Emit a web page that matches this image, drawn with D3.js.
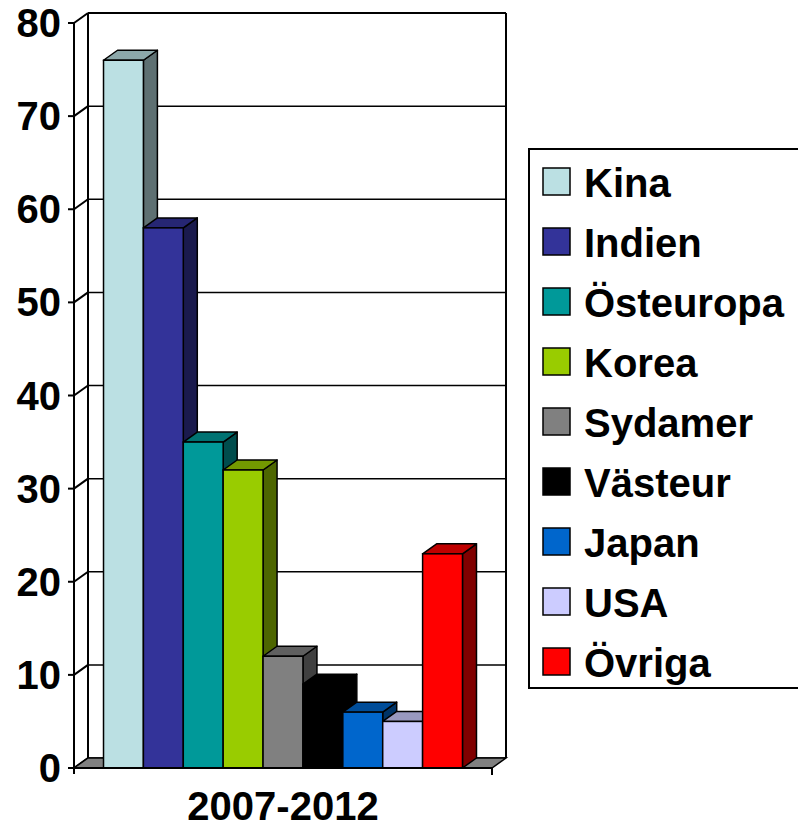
<!DOCTYPE html>
<html>
<head>
<meta charset="utf-8">
<script src="https://cdn.jsdelivr.net/npm/d3@7"></script>
<style>
  html, body { margin: 0; padding: 0; background: #fff; }
  svg { display: block; }
  text { font-family: "Liberation Sans", Arial, sans-serif; font-weight: bold; fill: #000; }
</style>
</head>
<body>
<svg id="chart" width="798" height="829"></svg>
<script>
const categories = ["Kina", "Indien", "Östeuropa", "Korea", "Sydamer", "Västeur", "Japan", "USA", "Övriga"];
const values = [76, 58, 35, 32, 12, 9, 6, 5, 23];
const colors = ["#BBE0E3", "#333399", "#009999", "#99CC00", "#808080", "#000000", "#0066CC", "#CCCCFF", "#FF0000"];
const yTicks = [0, 10, 20, 30, 40, 50, 60, 70, 80];
const groupLabel = "2007-2012";

const svg = d3.select("#chart");
const depthX = 14, depthY = -10;
const x0 = 74, x1 = 492, yBottom = 768, yTop = 23;

const x = d3.scaleBand().domain(categories).range([x0, x1]).paddingInner(0).paddingOuter(0.74);
const y = d3.scaleLinear().domain([0, 80]).range([yBottom, yTop]);

function shade(c, k) {
  const col = d3.rgb(c);
  return d3.rgb(col.r * k, col.g * k, col.b * k).formatHex();
}

const walls = svg.append("g");
walls.selectAll("line.grid").data(yTicks).join("line")
  .attr("x1", x0 + depthX).attr("x2", x1 + depthX)
  .attr("y1", d => y(d) + depthY).attr("y2", d => y(d) + depthY)
  .attr("stroke", "#000").attr("stroke-width", d => d === 80 ? 2 : 1.5);
walls.append("line")
  .attr("x1", x1 + depthX).attr("x2", x1 + depthX)
  .attr("y1", y(80) + depthY).attr("y2", y(0) + depthY)
  .attr("stroke", "#000").attr("stroke-width", 2);
walls.append("line")
  .attr("x1", x0 + depthX).attr("x2", x0 + depthX)
  .attr("y1", y(80) + depthY).attr("y2", y(0) + depthY)
  .attr("stroke", "#000").attr("stroke-width", 2);
walls.selectAll("line.diag").data(yTicks).join("line")
  .attr("x1", x0).attr("x2", x0 + depthX)
  .attr("y1", d => y(d)).attr("y2", d => y(d) + depthY)
  .attr("stroke", "#000").attr("stroke-width", 2);
walls.append("path")
  .attr("d", `M${x0},${y(0)}L${x1},${y(0)}L${x1 + depthX},${y(0) + depthY}L${x0 + depthX},${y(0) + depthY}Z`)
  .attr("fill", "#808080").attr("stroke", "#000").attr("stroke-width", 1.5);

const axis = svg.append("g");
axis.append("line")
  .attr("x1", x0).attr("x2", x0).attr("y1", y(80)).attr("y2", y(0) + 6)
  .attr("stroke", "#000").attr("stroke-width", 2);
axis.selectAll("line.tick").data(yTicks).join("line")
  .attr("x1", x0 - 6).attr("x2", x0)
  .attr("y1", d => y(d)).attr("y2", d => y(d))
  .attr("stroke", "#000").attr("stroke-width", 2);
axis.selectAll("text.tl").data(yTicks).join("text")
  .attr("x", 61).attr("y", d => y(d) + 14)
  .attr("text-anchor", "end").attr("font-size", 40)
  .text(d => d);

const bars = svg.append("g");
categories.forEach((c, i) => {
  const bx = x(c), w = x.bandwidth();
  const yt = y(values[i]), yb = y(0);
  const g = bars.append("g");
  g.append("path")
    .attr("d", `M${bx + w},${yt}L${bx + w + depthX},${yt + depthY}L${bx + w + depthX},${yb + depthY}L${bx + w},${yb}Z`)
    .attr("fill", shade(colors[i], 0.5)).attr("stroke", "#000").attr("stroke-width", 1.5).attr("stroke-linejoin", "round");
  g.append("path")
    .attr("d", `M${bx},${yt}L${bx + depthX},${yt + depthY}L${bx + w + depthX},${yt + depthY}L${bx + w},${yt}Z`)
    .attr("fill", shade(colors[i], 0.75)).attr("stroke", "#000").attr("stroke-width", 1.5).attr("stroke-linejoin", "round");
  g.append("rect")
    .attr("x", bx).attr("y", yt).attr("width", w).attr("height", yb - yt)
    .attr("fill", colors[i]).attr("stroke", "#000").attr("stroke-width", 1.5);
});

svg.append("line")
  .attr("x1", x0).attr("x2", x1).attr("y1", y(0)).attr("y2", y(0))
  .attr("stroke", "#000").attr("stroke-width", 2);
svg.append("line")
  .attr("x1", x1).attr("x2", x1).attr("y1", y(0)).attr("y2", y(0) + 7)
  .attr("stroke", "#000").attr("stroke-width", 2);

svg.append("text")
  .attr("x", (x0 + x1) / 2).attr("y", 820)
  .attr("text-anchor", "middle").attr("font-size", 40)
  .text(groupLabel);

const legend = svg.append("g");
legend.append("rect")
  .attr("x", 529).attr("y", 149).attr("width", 300).attr("height", 539)
  .attr("fill", "#fff").attr("stroke", "#000").attr("stroke-width", 2);
const items = legend.selectAll("g.item").data(categories).join("g")
  .attr("transform", (d, i) => `translate(0,${i * 60})`);
items.append("rect")
  .attr("x", 543).attr("y", 168).attr("width", 27).attr("height", 27)
  .attr("fill", (d, i) => colors[i]).attr("stroke", "#000").attr("stroke-width", 1.5);
items.append("text")
  .attr("x", 584).attr("y", 197).attr("font-size", 40)
  .text(d => d);
</script>
</body>
</html>
